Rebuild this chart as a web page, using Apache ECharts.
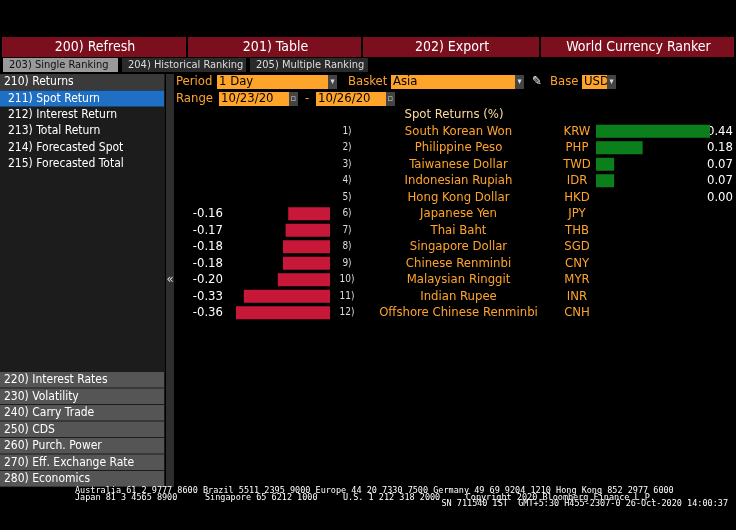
<!DOCTYPE html>
<html>
<head>
<meta charset="utf-8">
<script src="https://cdn.jsdelivr.net/npm/echarts@6/dist/echarts.min.js"></script>
<style>html,body{margin:0;background:#000}#c{width:736px;height:530px}</style>
</head>
<body>
<div id="c"></div>
<script>
// spot returns data
var names = ['South Korean Won','Philippine Peso','Taiwanese Dollar','Indonesian Rupiah','Hong Kong Dollar','Japanese Yen','Thai Baht','Singapore Dollar','Chinese Renminbi','Malaysian Ringgit','Indian Rupee','Offshore Chinese Renminbi'];
var codes = ['KRW','PHP','TWD','IDR','HKD','JPY','THB','SGD','CNY','MYR','INR','CNH'];
var returns = [0.44, 0.18, 0.07, 0.07, 0.00, -0.16, -0.17, -0.18, -0.18, -0.20, -0.33, -0.36];
var topButtons = ['200) Refresh','201) Table','202) Export','World Currency Ranker'];
var tabs = ['203) Single Ranking','204) Historical Ranking','205) Multiple Ranking'];
var menuTop = ['210) Returns','211) Spot Return','212) Interest Return','213) Total Return','214) Forecasted Spot','215) Forecasted Total'];
var menuBottom = ['220) Interest Rates','230) Volatility','240) Carry Trade','250) CDS','260) Purch. Power','270) Eff. Exchange Rate','280) Economics'];

var FONT = '"Liberation Sans Narrow", "DejaVu Sans Condensed", Roboto, sans-serif';
var ORANGE = '#ffa42b';
var chart = echarts.init(document.getElementById('c'));

var g = [];
// header buttons
var bx = [2, 188, 363, 541, 736];
topButtons.forEach(function (t, i) {
  g.push({type:'rect', shape:{x:bx[i], y:37, width:bx[i+1]-bx[i]-2, height:20}, style:{fill:'#7b0f1d'}});
  g.push({type:'text', x:(bx[i]+bx[i+1])/2, y:47, style:{text:t, fill:'#fff', font:'14px '+FONT, align:'center', verticalAlign:'middle'}});
});
// tabs
var tx = [3, 122, 250, 372];
tabs.forEach(function (t, i) {
  g.push({type:'rect', shape:{x:tx[i], y:58, width:tx[i+1]-tx[i]-4, height:14}, style:{fill:i===0?'#9a9a9a':'#2a2a2a'}});
  g.push({type:'text', x:tx[i]+6, y:65, style:{text:t, fill:i===0?'#111':'#ddd', font:'11px '+FONT, verticalAlign:'middle'}});
});
// left panel
g.push({type:'rect', shape:{x:0, y:74, width:165, height:413}, style:{fill:'#1c1c1c'}});
g.push({type:'rect', shape:{x:166, y:74, width:8, height:413}, style:{fill:'#2e2e2e'}});
g.push({type:'text', x:170, y:280, style:{text:'«', fill:'#ddd', font:'13px '+FONT, align:'center', verticalAlign:'middle'}});
menuTop.forEach(function (t, i) {
  var y = 74 + i*16.4;
  if (i === 0) g.push({type:'rect', shape:{x:0, y:y, width:164, height:16}, style:{fill:'#3a3a3a'}});
  if (i === 1) g.push({type:'rect', shape:{x:0, y:y, width:164, height:16}, style:{fill:'#1f6fc4'}});
  g.push({type:'text', x:i===0?4:8, y:y+8, style:{text:t, fill:'#fff', font:'12px '+FONT, verticalAlign:'middle'}});
});
menuBottom.forEach(function (t, i) {
  var y = 372 + i*16.5;
  g.push({type:'rect', shape:{x:0, y:y, width:164, height:15.5}, style:{fill:'#555'}});
  g.push({type:'text', x:4, y:y+8, style:{text:t, fill:'#fff', font:'12px '+FONT, verticalAlign:'middle'}});
});
// controls
function lbl(t, x, y) { g.push({type:'text', x:x, y:y, style:{text:t, fill:ORANGE, font:'13px '+FONT, verticalAlign:'middle'}}); }
function box(t, x, y, w, dd) {
  g.push({type:'rect', shape:{x:x, y:y-7, width:w, height:14}, style:{fill:ORANGE}});
  g.push({type:'text', x:x+2, y:y, style:{text:t, fill:'#000', font:'13px '+FONT, verticalAlign:'middle'}});
  g.push({type:'rect', shape:{x:x+w, y:y-7, width:9, height:14}, style:{fill:'#444'}});
  g.push({type:'text', x:x+w+4.5, y:y, style:{text:dd?'▾':'▫', fill:'#ddd', font:'9px '+FONT, align:'center', verticalAlign:'middle'}});
}
lbl('Period', 176, 82); box('1 Day', 217, 82, 111, true);
lbl('Basket', 348, 82); box('Asia', 391, 82, 124, true);
g.push({type:'text', x:537, y:82, style:{text:'✎', fill:'#fff', font:'13px '+FONT, align:'center', verticalAlign:'middle'}});
lbl('Base', 550, 82); box('USD', 582, 82, 25, true);
lbl('Range', 176, 99); box('10/23/20', 219, 99, 70, false);
lbl('-', 305, 99); box('10/26/20', 316, 99, 70, false);
g.push({type:'text', x:454, y:115, style:{text:'Spot Returns (%)', fill:'#ffd9a0', font:'13px '+FONT, align:'center', verticalAlign:'middle'}});
// footer
var fs = '8.5px "DejaVu Sans Mono", monospace';
g.push({type:'text', x:75, y:491, style:{text:'Australia 61 2 9777 8600 Brazil 5511 2395 9000 Europe 44 20 7330 7500 Germany 49 69 9204 1210 Hong Kong 852 2977 6000', fill:'#fff', font:fs, verticalAlign:'middle'}});
g.push({type:'text', x:75, y:498, style:{text:'Japan 81 3 4565 8900', fill:'#fff', font:fs, verticalAlign:'middle'}});
g.push({type:'text', x:205, y:498, style:{text:'Singapore 65 6212 1000', fill:'#fff', font:fs, verticalAlign:'middle'}});
g.push({type:'text', x:343, y:498, style:{text:'U.S. 1 212 318 2000', fill:'#fff', font:fs, verticalAlign:'middle'}});
g.push({type:'text', x:655, y:498, style:{text:'Copyright 2020 Bloomberg Finance L.P.', fill:'#fff', font:fs, align:'right', verticalAlign:'middle'}});
g.push({type:'text', x:728, y:504, style:{text:'SN 711540 IST  GMT+5:30 H455-2307-0 26-Oct-2020 14:00:37', fill:'#fff', font:fs, align:'right', verticalAlign:'middle'}});

var neg = returns.map(function (v) { return v < 0 ? v : '-'; });
var pos = returns.map(function (v) { return v > 0 ? v : '-'; });
var catLabels = names.map(function (n, i) { return String(i); });

chart.setOption({
  backgroundColor: '#000',
  animation: false,
  graphic: g,
  grid: [
    {left: 236, width: 94, top: 123, height: 198},
    {left: 596, width: 116, top: 123, height: 198}
  ],
  xAxis: [
    {gridIndex: 0, type: 'value', min: -0.36, max: 0, show: false},
    {gridIndex: 1, type: 'value', min: 0, max: 0.44, show: false}
  ],
  yAxis: [
    {gridIndex: 0, type: 'category', data: catLabels, inverse: true,
     axisLine: {show: false}, axisTick: {show: false},
     axisLabel: {interval: 0, margin: 13, color: '#fff', fontFamily: FONT, fontSize: 13,
       formatter: function (v) { var r = returns[+v]; return r < 0 ? r.toFixed(2) : ''; }}},
    {gridIndex: 1, type: 'category', data: catLabels, inverse: true,
     axisLine: {show: false}, axisTick: {show: false},
     axisLabel: {interval: 0, margin: 259, align: 'left', fontFamily: FONT, fontSize: 13,
       formatter: function (v) { var k = +v; return '{i|' + (k+1) + ')}{n|' + names[k] + '}{c|' + codes[k] + '}'; },
       rich: {
         i: {width: 20, align: 'right', color: '#ddd', fontSize: 10, fontFamily: FONT},
         n: {width: 199, align: 'left', color: ORANGE, fontSize: 13, fontFamily: FONT, padding: [0,0,0,2]},
         c: {width: 38, align: 'left', color: ORANGE, fontSize: 13, fontFamily: FONT}
       }}},
    {gridIndex: 1, type: 'category', data: catLabels, inverse: true, position: 'right',
     axisLine: {show: false}, axisTick: {show: false},
     axisLabel: {interval: 0, margin: 23, align: 'right', color: '#fff', fontFamily: FONT, fontSize: 13,
       formatter: function (v) { var r = returns[+v]; return r >= 0 ? r.toFixed(2) : ''; }}}
  ],
  series: [
    {type: 'bar', xAxisIndex: 0, yAxisIndex: 0, data: neg, barWidth: 13, itemStyle: {color: '#c8183a'}},
    {type: 'bar', xAxisIndex: 1, yAxisIndex: 1, data: pos, barWidth: 13, itemStyle: {color: '#0b7f1c'}}
  ]
});
</script>
</body>
</html>
